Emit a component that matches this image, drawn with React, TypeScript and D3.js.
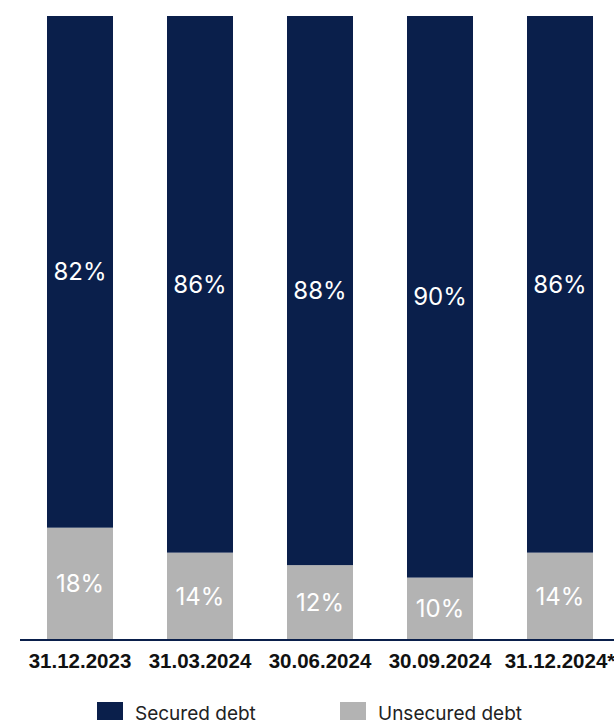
import React from "react";
import * as d3 from "d3";

const categories = ["31.12.2023", "31.03.2024", "30.06.2024", "30.09.2024", "31.12.2024*"];
const securedValues = [82, 86, 88, 90, 86];
const unsecuredValues = [18, 14, 12, 10, 14];
const seriesNames = ["Secured debt", "Unsecured debt"];

const W = 614;
const H = 720;
const NAVY = "#0a1f4b";
const GRAY = "#b3b3b3";

export default function App() {
  const x = d3.scaleBand<string>().domain(categories).range([20, 620]).paddingInner(0.45).paddingOuter(0.225);
  const y = d3.scaleLinear().domain([0, 100]).range([640, 16]);

  const rows = categories.map((c, i) => ({ cat: c, unsecured: unsecuredValues[i], secured: securedValues[i] }));
  const stack = d3.stack<any>().keys(["unsecured", "secured"])(rows);
  const colors: Record<string, string> = { unsecured: GRAY, secured: NAVY };

  return (
    <svg width={W} height={H} style={{ position: "absolute", left: 0, top: 0 }}>
      {stack.map((layer) => (
        <g key={layer.key}>
          {layer.map((d, i) => {
            const x0 = x(categories[i])!;
            const y0 = y(d[1]);
            const y1 = y(d[0]);
            const v = (rows[i] as any)[layer.key];
            return (
              <g key={i}>
                <rect x={x0} y={y0} width={x.bandwidth()} height={y1 - y0} fill={colors[layer.key]} />
                <text
                  x={x0 + x.bandwidth() / 2}
                  y={(y0 + y1) / 2}
                  dy="0.36em"
                  textAnchor="middle"
                  fill="#ffffff"
                  fontFamily="Inter, sans-serif"
                  fontWeight={400}
                  fontSize={24}
                >
                  {v}%
                </text>
              </g>
            );
          })}
        </g>
      ))}
      <line x1={20} x2={620} y1={640} y2={640} stroke={NAVY} strokeWidth={2} />
      {categories.map((c) => (
        <text
          key={c}
          x={x(c)! + x.bandwidth() / 2}
          y={668}
          textAnchor="middle"
          fill="#111"
          fontFamily="'Liberation Sans', Arial, sans-serif"
          fontWeight={700}
          fontSize={20.5}
        >
          {c}
        </text>
      ))}
      {seriesNames.map((n, i) => {
        const lx = [97, 340][i];
        return (
          <g key={n}>
            <rect x={lx} y={702} width={26} height={18} fill={i === 0 ? NAVY : GRAY} />
            <text x={lx + 38} y={720} fill="#222" fontFamily="Inter, sans-serif" fontSize={19}>
              {n}
            </text>
          </g>
        );
      })}
    </svg>
  );
}
